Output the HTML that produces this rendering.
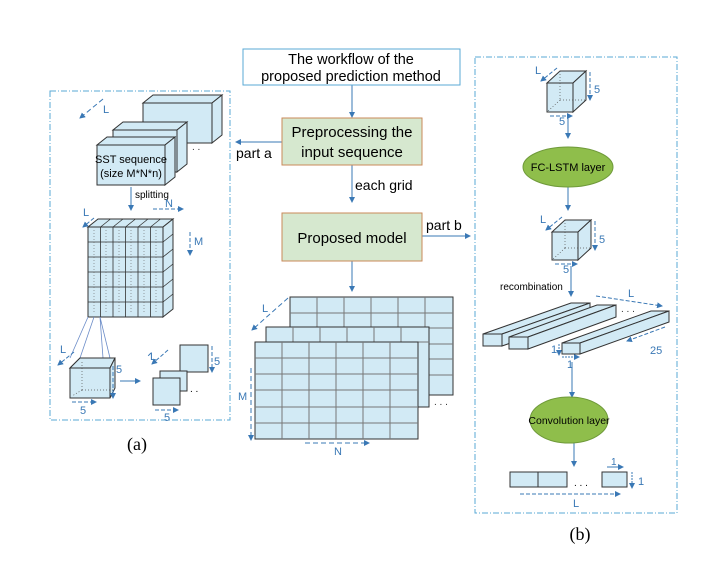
<!DOCTYPE html>
<html><head><meta charset="utf-8"><style>
body{margin:0;background:#fff}
svg{display:block}
text{font-family:"Liberation Sans",sans-serif}
</style></head><body>
<svg width="709" height="562" viewBox="0 0 709 562" xmlns="http://www.w3.org/2000/svg">
<defs>
<marker id="a" markerWidth="6" markerHeight="6" refX="5" refY="3" orient="auto"><path d="M0,0 L6,3 L0,6 z" fill="#3a78b5"/></marker>
</defs>
<g stroke="#3a78b5" fill="none" stroke-width="1">
<!-- panel borders -->
<rect x="50" y="91" width="180" height="329" stroke="#5aa9d6" stroke-dasharray="6,2,1,2"/>
<rect x="475" y="57" width="202" height="456" stroke="#5aa9d6" stroke-dasharray="6,2,1,2"/>
<!-- center arrows -->
<line x1="352" y1="85" x2="352" y2="117" marker-end="url(#a)"/>
<line x1="282" y1="142" x2="236" y2="142" marker-end="url(#a)"/>
<line x1="352" y1="165" x2="352" y2="202" marker-end="url(#a)"/>
<line x1="422" y1="236" x2="470" y2="236" marker-end="url(#a)"/>
<line x1="352" y1="261" x2="352" y2="291" marker-end="url(#a)"/>
</g>
<!-- center boxes -->
<rect x="243" y="49" width="217" height="36" fill="#fff" stroke="#5aa9d6"/>
<text x="351" y="64" font-size="14.5" text-anchor="middle">The workflow of the</text>
<text x="351" y="81" font-size="14.5" text-anchor="middle">proposed prediction method</text>
<rect x="282" y="118" width="140" height="47" fill="#d6e8cf" stroke="#c98a5a"/>
<text x="352" y="137" font-size="15" text-anchor="middle">Preprocessing the</text>
<text x="352" y="157" font-size="15" text-anchor="middle">input sequence</text>
<text x="236" y="158" font-size="14">part a</text>
<text x="355" y="190" font-size="14">each grid</text>
<rect x="282" y="213" width="140" height="48" fill="#d6e8cf" stroke="#c98a5a"/>
<text x="352" y="243" font-size="15" text-anchor="middle">Proposed model</text>
<text x="426" y="230" font-size="14">part b</text>
<!-- center grids -->
<g stroke="#777" stroke-width="1">
<rect x="290" y="297" width="163" height="98" fill="#d2eaf5" stroke="#333"/>
<path d="M290,313H453M290,328H453M290,344H453M290,359H453M290,375H453M317,297V327M344,297V327M371,297V327M398,297V327M425,297V327"/>
<rect x="266" y="327" width="163" height="80" fill="#d2eaf5" stroke="#333"/>
<path d="M266,342H429M293,327V342M320,327V342M347,327V342M374,327V342M401,327V342"/>
<rect x="255" y="342" width="163" height="97" fill="#d2eaf5" stroke="#333"/>
<path d="M255,358H418M255,374H418M255,390H418M255,407H418M255,423H418M282,342V439M309,342V439M336,342V439M363,342V439M390,342V439"/>
</g>
<text x="434" y="405" font-size="10" fill="#333">. . .</text>
<g stroke="#3a78b5" fill="none" stroke-dasharray="5,3">
<line x1="288" y1="298" x2="252" y2="330" marker-end="url(#a)"/>
<line x1="251" y1="368" x2="251" y2="440" marker-end="url(#a)"/>
<line x1="305" y1="443" x2="369" y2="443" marker-end="url(#a)"/>
</g>
<text x="262" y="312" font-size="11" fill="#3a78b5">L</text>
<text x="238" y="400" font-size="11" fill="#3a78b5">M</text>
<text x="334" y="455" font-size="11" fill="#3a78b5">N</text>

<!-- LEFT PANEL -->
<g stroke="#333" fill="#d2eaf5">
<polygon points="143,103 212,103 222,95 153,95"/><polygon points="212,103 222,95 222,135 212,143"/><rect x="143" y="103" width="69" height="40"/>
<polygon points="113,130 177,130 187,122 123,122"/><polygon points="177,130 187,122 187,164 177,172"/><rect x="113" y="130" width="64" height="42"/>
<polygon points="97,145 165,145 175,137 107,137"/><polygon points="165,145 175,137 175,177 165,185"/><rect x="97" y="145" width="68" height="40"/>
</g>
<text x="131" y="163" font-size="11" text-anchor="middle">SST sequence</text>
<text x="131" y="177" font-size="11" text-anchor="middle">(size M*N*n)</text>
<text x="192" y="150" font-size="10" fill="#333">. .</text>
<g stroke="#3a78b5" fill="none">
<line x1="131" y1="187" x2="131" y2="210" marker-end="url(#a)"/>
<line x1="103" y1="99" x2="80" y2="118" stroke-dasharray="5,3" marker-end="url(#a)"/>
</g>
<text x="135" y="198" font-size="10">splitting</text>
<text x="103" y="113" font-size="11" fill="#3a78b5">L</text>
<!-- grid cube -->
<g stroke="#333" fill="#d2eaf5">
<polygon points="88,227 163,227 173,219 98,219"/>
<polygon points="163,227 173,219 173,309 163,317"/>
<rect x="88" y="227" width="75" height="90"/>
</g>
<g stroke="#333" stroke-width="0.8" fill="none">
<path d="M100.5,227V317M113,227V317M125.5,227V317M138,227V317M150.5,227V317M88,242H163M88,257H163M88,272H163M88,287H163M88,302H163"/>
<path d="M100.5,227l10,-8M113,227l10,-8M125.5,227l10,-8M138,227l10,-8M150.5,227l10,-8M163,242l10,-8M163,257l10,-8M163,272l10,-8M163,287l10,-8M163,302l10,-8"/>
</g>
<g stroke="#666" stroke-width="0.6" stroke-dasharray="1,2">
<path d="M94,230V314M106,230V314M119,230V314M131,230V314M144,230V314M156,230V314"/>
</g>
<g stroke="#3a78b5" fill="none" stroke-dasharray="4,2">
<line x1="94" y1="218" x2="83" y2="227" marker-end="url(#a)"/>
<line x1="153" y1="209" x2="183" y2="209" marker-end="url(#a)"/>
<line x1="190" y1="232" x2="190" y2="255" marker-end="url(#a)"/>
</g>
<text x="83" y="216" font-size="11" fill="#3a78b5">L</text>
<text x="165" y="207" font-size="11" fill="#3a78b5">N</text>
<text x="194" y="245" font-size="11" fill="#3a78b5">M</text>
<!-- small cube -->
<g stroke="#6b8cc8" stroke-width="0.8"><path d="M88,317L70,358M94,317L80,358M100,317L103,358M100,317L110,358"/></g>
<g stroke="#333" fill="#d2eaf5">
<polygon points="70,368 110,368 110,358 80,358" /><polygon points="70,368 110,368 115,358 80,358" fill="#d2eaf5"/>
<polygon points="110,368 115,358 115,388 110,398" />
<rect x="70" y="368" width="40" height="30"/>
</g>
<path d="M82,362V390M82,390H113M82,390L72,396" stroke="#555" stroke-width="0.7" stroke-dasharray="1,2" fill="none"/>
<g stroke="#3a78b5" fill="none">
<line x1="74" y1="352" x2="58" y2="365" stroke-dasharray="4,2" marker-end="url(#a)"/>
<line x1="113" y1="366" x2="113" y2="398" stroke-dasharray="4,2" marker-end="url(#a)"/>
<line x1="72" y1="402" x2="96" y2="402" stroke-dasharray="4,2" marker-end="url(#a)"/>
<line x1="120" y1="381" x2="140" y2="381" marker-end="url(#a)"/>
<line x1="151" y1="353" x2="148" y2="356" stroke-dasharray="4,2"/>
<line x1="168" y1="350" x2="152" y2="364" stroke-dasharray="4,2" marker-end="url(#a)"/>
<line x1="212" y1="346" x2="212" y2="372" stroke-dasharray="4,2" marker-end="url(#a)"/>
<line x1="155" y1="410" x2="178" y2="410" stroke-dasharray="4,2" marker-end="url(#a)"/>
</g>
<text x="60" y="353" font-size="11" fill="#3a78b5">L</text>
<text x="116" y="373" font-size="11" fill="#3a78b5">5</text>
<text x="80" y="414" font-size="11" fill="#3a78b5">5</text>
<g stroke="#333" fill="#d2eaf5">
<rect x="180" y="345" width="28" height="27"/>
<rect x="160" y="371" width="27" height="20"/>
<rect x="153" y="378" width="27" height="27"/>
</g>
<text x="150" y="360" font-size="11" fill="#3a78b5">L</text>
<text x="214" y="365" font-size="11" fill="#3a78b5">5</text>
<text x="164" y="421" font-size="11" fill="#3a78b5">5</text>
<text x="190" y="392" font-size="10">. .</text>
<text x="137" y="450" font-size="18" text-anchor="middle" font-family="Liberation Serif, serif" style="font-family:'Liberation Serif',serif">(a)</text>

<!-- RIGHT PANEL -->
<g stroke="#333" fill="#d2eaf5">
<polygon points="547,83 573,83 586,71 560,71"/><polygon points="573,83 586,71 586,100 573,112"/><rect x="547" y="83" width="26" height="29"/>
<polygon points="552,232 578,232 591,220 565,220"/><polygon points="578,232 591,220 591,248 578,260"/><rect x="552" y="232" width="26" height="28"/>
</g>
<path d="M560,71V100M560,100H586M560,100L547,112M565,220V248M565,248H591M565,248L552,260" stroke="#555" stroke-width="0.7" stroke-dasharray="1,2" fill="none"/>
<g stroke="#3a78b5" fill="none">
<line x1="557" y1="68" x2="541" y2="81" stroke-dasharray="4,2" marker-end="url(#a)"/>
<line x1="590" y1="72" x2="590" y2="100" stroke-dasharray="4,2" marker-end="url(#a)"/>
<line x1="550" y1="116" x2="572" y2="116" stroke-dasharray="4,2" marker-end="url(#a)"/>
<line x1="568" y1="118" x2="568" y2="138" marker-end="url(#a)"/>
<line x1="568" y1="187" x2="568" y2="210" marker-end="url(#a)"/>
<line x1="562" y1="217" x2="546" y2="230" stroke-dasharray="4,2" marker-end="url(#a)"/>
<line x1="595" y1="221" x2="595" y2="250" stroke-dasharray="4,2" marker-end="url(#a)"/>
<line x1="555" y1="264" x2="577" y2="264" stroke-dasharray="4,2" marker-end="url(#a)"/>
<line x1="571" y1="266" x2="571" y2="296" marker-end="url(#a)"/>
<line x1="596" y1="296" x2="662" y2="306" stroke-dasharray="4,2" marker-end="url(#a)"/>
<line x1="665" y1="327" x2="627" y2="341" stroke-dasharray="4,2" marker-end="url(#a)"/>
<line x1="559" y1="344" x2="559" y2="355" stroke-dasharray="2,1" marker-end="url(#a)"/>
<line x1="562" y1="357" x2="579" y2="357" stroke-dasharray="2,1" marker-end="url(#a)"/>
<line x1="572" y1="362" x2="572" y2="397" marker-end="url(#a)"/>
<line x1="574" y1="443" x2="574" y2="466" marker-end="url(#a)"/>
<line x1="607" y1="467" x2="623" y2="467" marker-end="url(#a)"/>
<line x1="632" y1="472" x2="632" y2="488" stroke-dasharray="2,1" marker-end="url(#a)"/>
<line x1="520" y1="494" x2="620" y2="494" stroke-dasharray="4,2" marker-end="url(#a)"/>
</g>
<text x="535" y="74" font-size="11" fill="#3a78b5">L</text>
<text x="594" y="93" font-size="11" fill="#3a78b5">5</text>
<text x="559" y="125" font-size="11" fill="#3a78b5">5</text>
<text x="540" y="223" font-size="11" fill="#3a78b5">L</text>
<text x="599" y="243" font-size="11" fill="#3a78b5">5</text>
<text x="563" y="273" font-size="11" fill="#3a78b5">5</text>
<ellipse cx="568" cy="167" rx="45" ry="20" fill="#8fbe4b" stroke="#6f9a3a"/>
<text x="568" y="171" font-size="11" text-anchor="middle">FC-LSTM layer</text>
<text x="500" y="290" font-size="10">recombination</text>
<g stroke="#333" fill="#d2eaf5">
<polygon points="483,334 502,334 590,303 571,303"/><polygon points="502,334 590,303 590,315 502,346"/><rect x="483" y="334" width="19" height="12"/>
<polygon points="509,337 528,337 616,305 597,305"/><polygon points="528,337 616,305 616,317 528,349"/><rect x="509" y="337" width="19" height="12"/>
<polygon points="562,343 580,343 669,311 651,311"/><polygon points="580,343 669,311 669,322 580,354"/><rect x="562" y="343" width="18" height="11"/>
</g>
<text x="621" y="312" font-size="10" fill="#333">. . .</text>
<text x="628" y="297" font-size="11" fill="#3a78b5">L</text>
<text x="650" y="354" font-size="11" fill="#3a78b5">25</text>
<text x="551" y="353" font-size="11" fill="#3a78b5">1</text>
<text x="567" y="368" font-size="11" fill="#3a78b5">1</text>
<ellipse cx="569" cy="420" rx="39" ry="23" fill="#8fbe4b" stroke="#6f9a3a"/>
<text x="569" y="424" font-size="10.5" text-anchor="middle">Convolution layer</text>
<g stroke="#333" fill="#d2eaf5">
<rect x="510" y="472" width="57" height="15"/><line x1="538" y1="472" x2="538" y2="487"/>
<rect x="602" y="472" width="25" height="15"/>
</g>
<text x="574" y="486" font-size="10">. . .</text>
<text x="611" y="465" font-size="10" fill="#3a78b5">1</text>
<text x="638" y="485" font-size="11" fill="#3a78b5">1</text>
<text x="573" y="507" font-size="11" fill="#3a78b5">L</text>
<text x="580" y="540" font-size="18" text-anchor="middle" style="font-family:'Liberation Serif',serif">(b)</text>
</svg>
</body></html>
